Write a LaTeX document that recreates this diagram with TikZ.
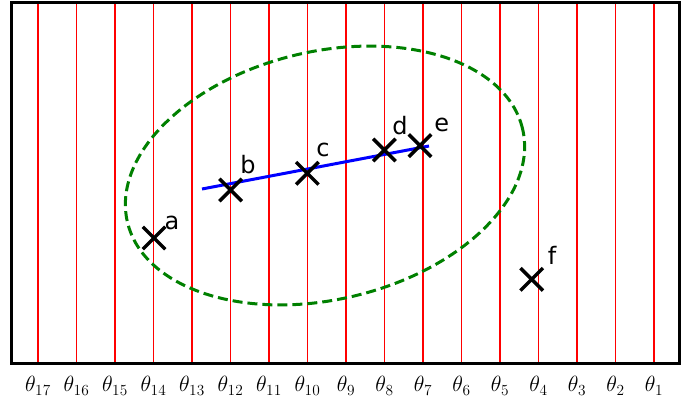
\RequirePackage{fix-cm}
\documentclass[tikz,border=0pt]{standalone}
\usepackage{fontspec}
\newfontfamily\ptfont{DejaVu Sans}
\usetikzlibrary{shapes.misc}
\definecolor{regiongreen}{HTML}{008000}

\tikzset{
  frame/.style={draw=black, line width=3pt},
  thetaline/.style={draw=red, line width=1.6pt},
  thetalab/.style={font=\fontsize{22}{26}\selectfont, inner sep=0pt},
  ptmark/.style={cross out, draw=black, line width=3.5pt, minimum size=19pt, inner sep=0pt},
  ptlabel/.style={font=\ptfont\fontsize{24}{28}\selectfont, inner sep=0pt},
  region/.style={draw=regiongreen, line width=3pt, dash pattern=on 10pt off 5pt},
  fitline/.style={draw=blue, line width=3pt}
}

\begin{document}
\begin{tikzpicture}[x=1pt, y=1pt]
\useasboundingbox (0,0) rectangle (694,408);
% angle lines and their labels
\foreach \i in {1,...,17} {
  \draw[thetaline] ({654-(\i-1)*38.5},45) -- ({654-(\i-1)*38.5},405);
  \node[thetalab] (t\i) at ({654-(\i-1)*38.5},22) {$\theta_{\i}$};
}
\draw[frame] (11,45) rectangle (679,405);
% region
\draw[region, rotate around={13.3:(325,232.5)}] (325,232.5) ellipse [x radius=203, y radius=124];
% fitted line
\coordinate (fitstart) at (202,219);
\coordinate (fitend) at (429,262);
\draw[fitline] (fitstart) -- (fitend);
% points
\node[ptmark] (a) at (154,170) {};
\node[ptmark] (b) at (230.7,218) {};
\node[ptmark] (c) at (307.3,234.7) {};
\node[ptmark] (d) at (384.3,258) {};
\node[ptmark] (e) at (420,262.3) {};
\node[ptmark] (f) at (531.7,128.7) {};
\node[ptlabel] (la) at (172,185) {a};
\node[ptlabel] (lb) at (248,243) {b};
\node[ptlabel] (lc) at (323,258) {c};
\node[ptlabel] (ld) at (400,282) {d};
\node[ptlabel] (le) at (441.7,283) {e};
\node[ptlabel] (lf) at (552,153) {f};
\end{tikzpicture}
\end{document}
